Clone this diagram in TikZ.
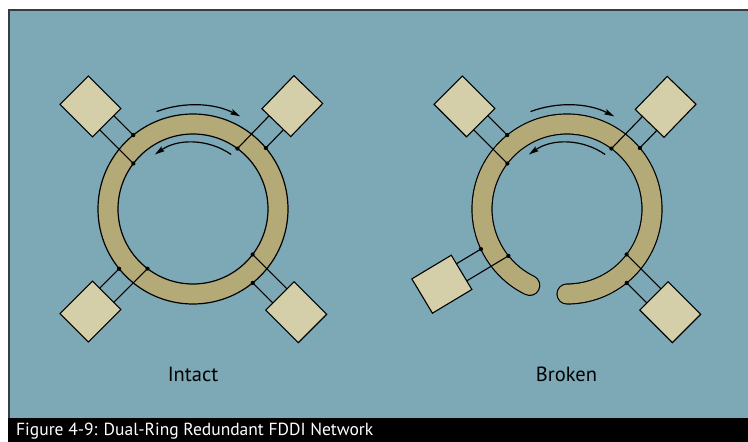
\documentclass[tikz,border=0pt]{standalone}
\usepackage{fontspec}
\setmainfont{PT Sans}
\usetikzlibrary{arrows.meta,calc}
\definecolor{bgblue}{RGB}{125,168,182}
\definecolor{ringtan}{RGB}{180,170,120}
\definecolor{boxtan}{RGB}{212,207,168}
\definecolor{edgegray}{RGB}{55,60,65}
\tikzset{
  stationbox/.style={draw=black, fill=boxtan, line width=1.1pt, minimum width=46pt, minimum height=40pt, inner sep=0pt, outer sep=0pt},
  link/.style={line width=1.1pt},
  flow/.style={line width=1.2pt, -{Stealth[length=10pt,width=5.5pt,inset=1.5pt]}},
  ringline/.style={line width=1.2pt},
  lbl/.style={font=\fontsize{20.5}{24}\selectfont, anchor=base},
}
\newcommand\fddistation[4]{%
  \begin{scope}[shift={(#1)}, rotate=#2]
    \node[stationbox, transform shape] (#4) at (#3,0) {};
    \coordinate (#4o) at (94.47,-10);
    \coordinate (#4i) at (74.33,10);
    \draw[link] ($(#4.west)!0.5!(#4.south west)$) -- (#4o);
    \draw[link] ($(#4.west)!0.5!(#4.north west)$) -- (#4i);
    \fill (#4o) circle (2.1pt);
    \fill (#4i) circle (2.1pt);
  \end{scope}}
\begin{document}
\begin{tikzpicture}[x=1pt,y=1pt]
  \useasboundingbox (0,0) rectangle (748,442);
  \fill[white] (0,0) rectangle (748,442);
  \fill[bgblue] (8,24) rectangle (748,433);
  \draw[edgegray, line width=2pt] (9,24) -- (9,432) -- (748,432);
  \fill[black] (8,0) rectangle (748,24);
  \node[anchor=base west, text=white, font=\fontsize{17.5}{21}\selectfont, inner sep=0pt] (cap) at (16,6) {Figure 4-9: Dual-Ring Redundant FDDI Network};

  \coordinate (L) at (193,233);
  \coordinate (R) at (567,233);

  % intact ring
  \fill[ringtan, even odd rule] (L) circle (95pt) (L) circle (75pt);
  \draw[ringline] (L) circle (95pt) (L) circle (75pt);
  \draw[flow] ($(L)+(110.5:104pt)$) arc[start angle=110.5, end angle=63, radius=104pt];
  \draw[flow] ($(L)+(55:66.5pt)$) arc[start angle=55, end angle=125, radius=66.5pt];
  \fddistation{L}{135}{145}{ltl}
  \fddistation{L}{46}{143}{ltr}
  \fddistation{L}{225}{145}{lbl}
  \fddistation{L}{315}{146}{lbr}
  \node[lbl] (intact) at (193,60) {Intact};

  % broken ring
  \draw[line width=21.2pt, line cap=round] ($(R)+(270:85pt)$) arc[start angle=270, end angle=604, radius=85pt];
  \draw[ringtan, line width=18.8pt, line cap=round] ($(R)+(270:85pt)$) arc[start angle=270, end angle=604, radius=85pt];
  \draw[flow] ($(R)+(110.5:104pt)$) arc[start angle=110.5, end angle=63, radius=104pt];
  \draw[flow] ($(R)+(55:66.5pt)$) arc[start angle=55, end angle=125, radius=66.5pt];
  \fddistation{R}{135}{145}{rtl}
  \fddistation{R}{46}{142}{rtr}
  \fddistation{R}{211}{146}{rbl}
  \fddistation{R}{315}{146}{rbr}
  \node[lbl] (broken) at (566.5,60) {Broken};
\end{tikzpicture}
\end{document}
